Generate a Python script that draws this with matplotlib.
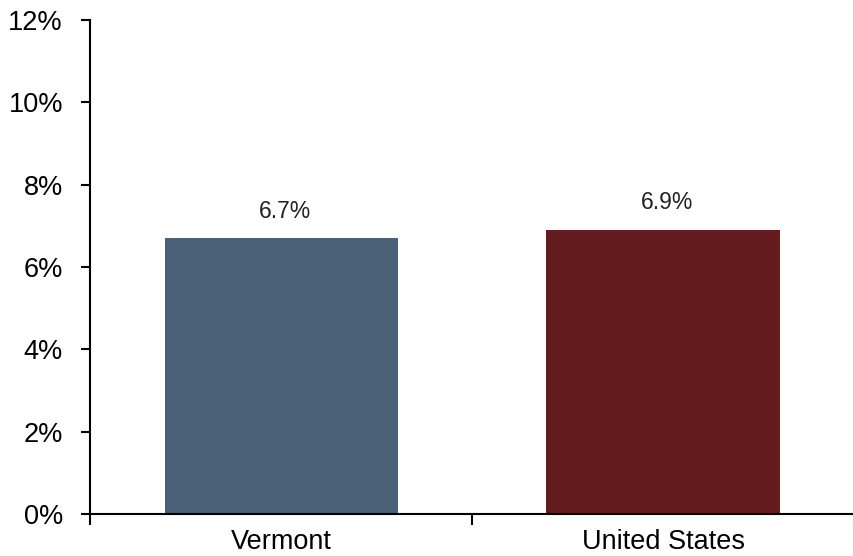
import matplotlib.pyplot as plt
from matplotlib.ticker import FuncFormatter

regions = ['Vermont', 'United States']
rates = [6.7, 6.9]
bar_colors = ['#4a6178', '#641c1e']
y_ticks = [0, 2, 4, 6, 8, 10, 12]

plt.rcParams['font.family'] = ['Liberation Sans', 'DejaVu Sans']

fig = plt.figure(figsize=(8.54, 5.56), dpi=100)
ax = fig.add_axes([0.1054, 0.0755, 0.8946, 0.8885])

x = range(len(regions))
bars = ax.bar(x, rates, width=0.61, color=bar_colors)
for b, v in zip(bars, rates):
    ax.text(b.get_x() + b.get_width() / 2 + 0.01, v + 0.38, f'{v:.1f}%',
            ha='center', va='bottom', fontsize=16.5, color='#222222')

ax.set_xlim(-0.5, 1.5)
ax.set_ylim(0, 12)
ax.set_yticks(y_ticks)
ax.yaxis.set_major_formatter(FuncFormatter(lambda v, p: f'{v:.0f}%'))
ax.set_xticks([-0.5, 0.5, 1.5])
ax.set_xticklabels([])
ax.set_xticks(list(x), minor=True)
ax.set_xticklabels(regions, minor=True)
ax.tick_params(axis='x', which='minor', length=0, labelsize=19.5, pad=11)
ax.tick_params(axis='x', which='major', length=8, width=1.5, direction='out')
ax.tick_params(axis='y', length=6.5, width=1.5, direction='out', labelsize=19.5, pad=13)

for s in ['top', 'right']:
    ax.spines[s].set_visible(False)
for s in ['left', 'bottom']:
    ax.spines[s].set_linewidth(1.5)

fig.savefig('out.png', dpi=100)
